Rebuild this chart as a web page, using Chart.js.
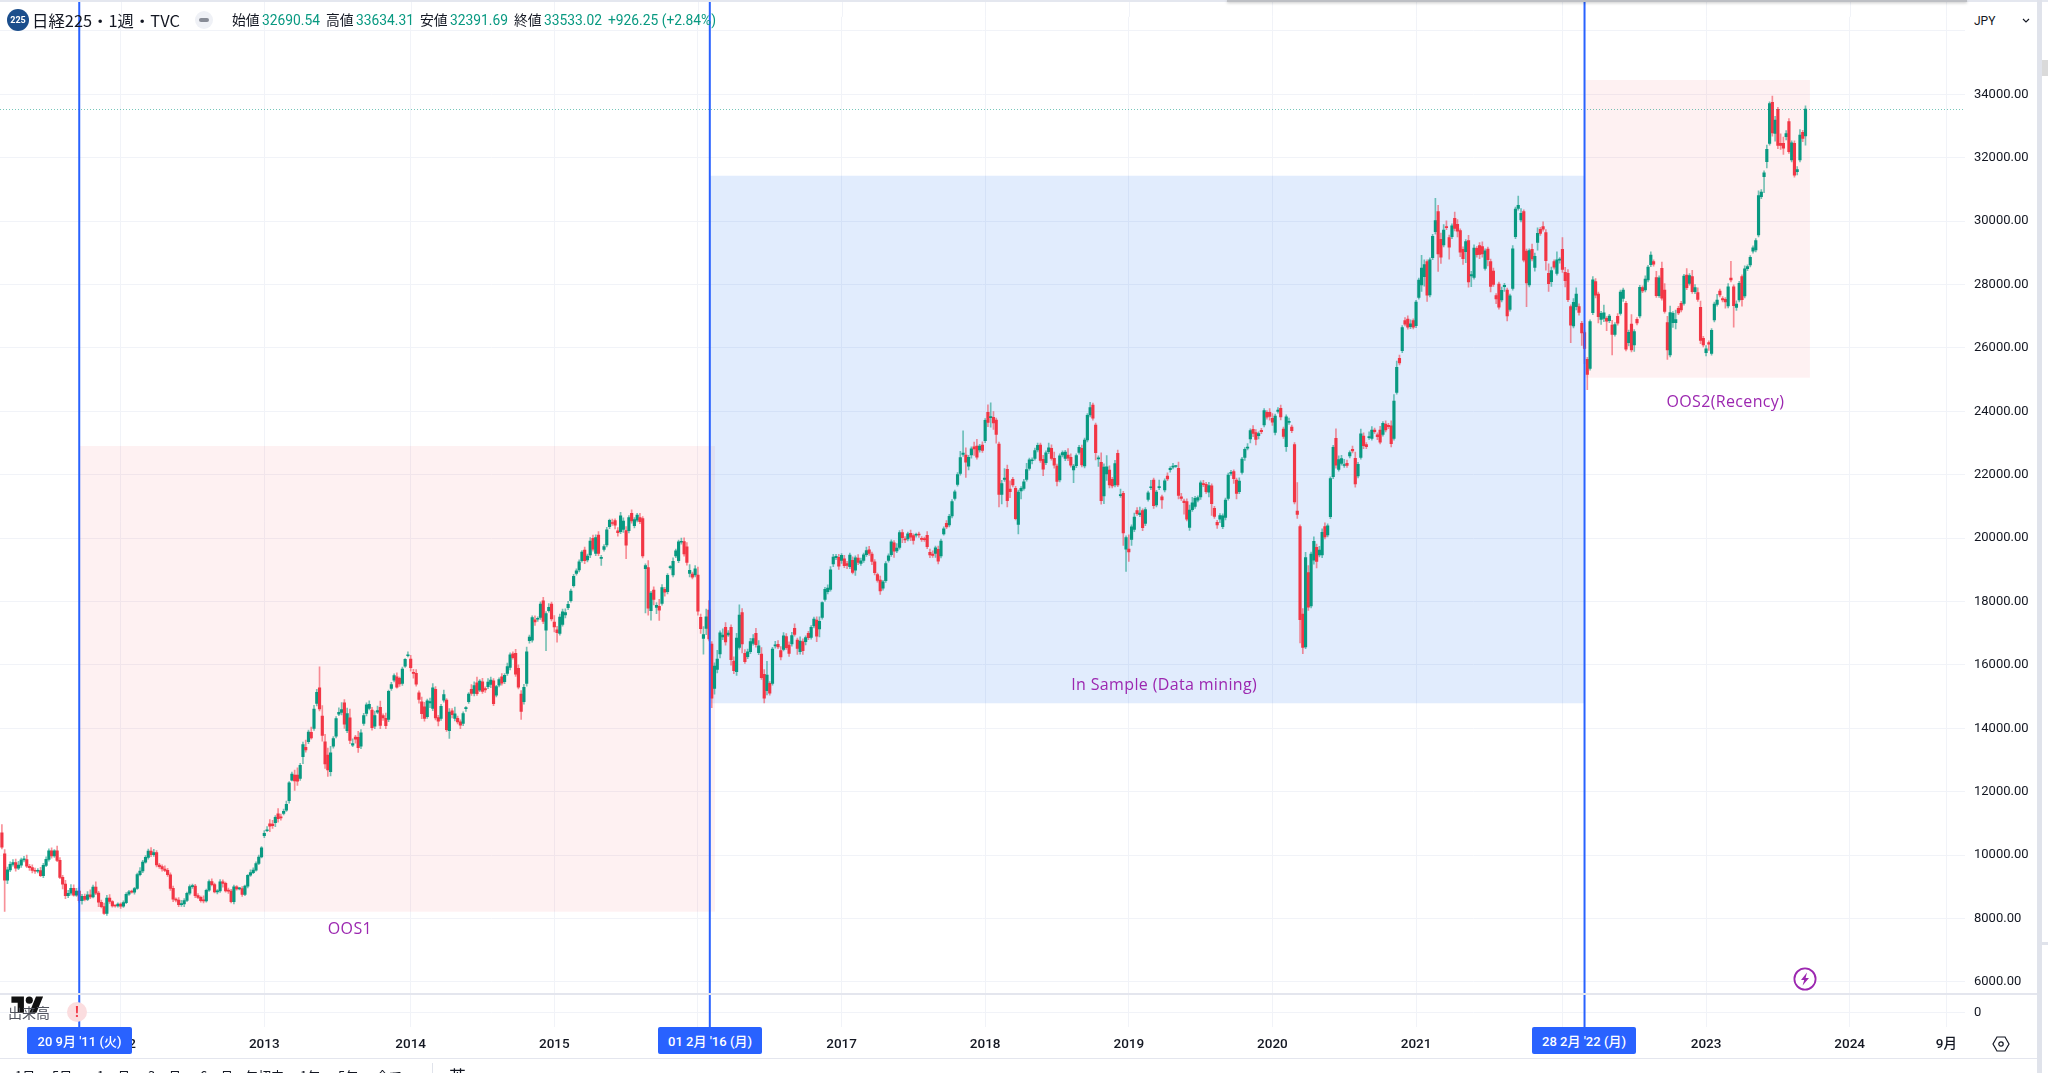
<!DOCTYPE html>
<html lang="ja"><head><meta charset="utf-8"><title>日経225 1週 TVC</title>
<script src="https://cdn.jsdelivr.net/npm/chart.js@4"></script>
<style>
html,body{margin:0;padding:0;width:2048px;height:1073px;overflow:hidden;background:#fff;font-family:Roboto,"Noto Sans CJK JP",sans-serif;color:#131722}
canvas{position:absolute;left:0;top:0;filter:blur(.3px)}
.a{position:absolute;white-space:nowrap}
.g{color:#089981}
.badge{position:absolute;top:1027px;height:27px;background:#2962FF;color:#fff;border-radius:2px;text-align:center;font:500 13px/30px Roboto,"Noto Sans CJK JP";overflow:hidden}
</style></head><body>
<canvas id="c" width="2048" height="1073"></canvas>

<div class="a" style="left:0;top:0;width:2048px;height:2px;background:#E4E7EF"></div>
<div class="a" style="left:1227px;top:0;width:740px;height:2px;background:#BDBFC4;box-shadow:0 1px 3px rgba(0,0,0,.25)"></div>

<div class="a" style="left:7px;top:9px;width:22px;height:22px;border-radius:50%;background:#1B4E8C;color:#fff;font:700 9px/22px Roboto;text-align:center">225</div>
<div class="a" style="left:32px;top:8px;font:400 16.4px/24px 'Noto Sans CJK JP'">日経225・1週・TVC</div>
<div class="a" style="left:195px;top:11px;width:18px;height:18px;border-radius:50%;background:#EFF1F6"></div>
<div class="a" style="left:199px;top:18px;width:10px;height:4px;border-radius:2px;background:#888C96"></div>
<div class="a" style="left:232px;top:11px;font-size:13.8px;line-height:18px">始値</div><div class="a g" style="left:262px;top:11px;font-size:13.8px;line-height:18px">32690.54</div>
<div class="a" style="left:326px;top:11px;font-size:13.8px;line-height:18px">高値</div><div class="a g" style="left:356px;top:11px;font-size:13.8px;line-height:18px">33634.31</div>
<div class="a" style="left:420px;top:11px;font-size:13.8px;line-height:18px">安値</div><div class="a g" style="left:450px;top:11px;font-size:13.8px;line-height:18px">32391.69</div>
<div class="a" style="left:514px;top:11px;font-size:13.8px;line-height:18px">終値</div><div class="a g" style="left:544px;top:11px;font-size:13.8px;line-height:18px">33533.02</div>
<div class="a g" style="left:608px;top:11px;font-size:13.8px;line-height:18px">+926.25 (+2.84%)</div>

<div class="a" style="left:1974px;top:10px;width:60px;height:22px;font:12px/22px Roboto;background:#fff">JPY<svg style="position:absolute;left:48px;top:8px" width="8" height="6"><path d="M1 1l3 3 3-3" fill="none" stroke="#131722" stroke-width="1.1"/></svg></div>

<div class="a" style="left:0;top:993px;width:2037px;height:2px;background:#E4E6EE"></div>
<div class="a" style="left:0;top:1058px;width:2037px;height:1px;background:#E4E6EE"></div>
<div class="a" style="left:2037px;top:0;width:5px;height:1073px;background:#E0E3EB"></div>
<div class="a" style="left:2042px;top:60px;width:6px;height:16px;background:#DADADA"></div>
<div class="a" style="left:2042px;top:942px;width:6px;height:3px;background:#E0E3EB"></div>

<svg class="a" style="left:11px;top:993px" width="33" height="25" viewBox="0 0 36 28"><path d="M14 22H7V11H0V4h14v18zM28 22h-8l7.5-18h8L28 22z" fill="#111"/><circle cx="20" cy="8" r="4" fill="#111"/></svg>
<div class="a" style="left:8px;top:1003px;font:400 14px/18px 'Noto Sans CJK JP';color:#50535E">出来高</div>
<div class="a" style="left:67px;top:1002px;width:20px;height:20px;border-radius:50%;background:#FBDDDF;color:#F23645;font:700 14px/20px Roboto;text-align:center">!</div>

<svg class="a" style="left:1793px;top:967px" width="24" height="24" viewBox="0 0 24 24"><circle cx="12" cy="12" r="10.6" fill="#fff" stroke="#9C27B0" stroke-width="1.8"/><path d="M14 5.5L8 13h3.2l-1.6 5.5L16 11h-3.4z" fill="#9C27B0"/></svg>
<svg class="a" style="left:1992px;top:1036px" width="18" height="16" viewBox="0 0 18 16"><path d="M5 1h8l4 7-4 7H5L1 8z" fill="none" stroke="#131722" stroke-width="1.2"/><circle cx="9" cy="8" r="2.2" fill="none" stroke="#131722" stroke-width="1.2"/></svg>

<div class="badge" style="left:27px;width:105px">20 9月 '11 (火)</div>
<div class="badge" style="left:658px;width:104px">01 2月 '16 (月)</div>
<div class="badge" style="left:1532px;width:104px">28 2月 '22 (月)</div>

<div class="a" style="left:15px;top:1067px;font:400 13px/18px 'Noto Sans CJK JP';color:#131722">1日</div>
<div class="a" style="left:52px;top:1067px;font:400 13px/18px 'Noto Sans CJK JP'">5日</div>
<div class="a" style="left:97px;top:1067px;font:400 13px/18px 'Noto Sans CJK JP'">1ヶ月</div>
<div class="a" style="left:148px;top:1067px;font:400 13px/18px 'Noto Sans CJK JP'">3ヶ月</div>
<div class="a" style="left:200px;top:1067px;font:400 13px/18px 'Noto Sans CJK JP'">6ヶ月</div>
<div class="a" style="left:245px;top:1067px;font:400 13px/18px 'Noto Sans CJK JP'">年初来</div>
<div class="a" style="left:300px;top:1067px;font:400 13px/18px 'Noto Sans CJK JP'">1年</div>
<div class="a" style="left:338px;top:1067px;font:400 13px/18px 'Noto Sans CJK JP'">5年</div>
<div class="a" style="left:376px;top:1067px;font:400 13px/18px 'Noto Sans CJK JP'">全て</div>
<div class="a" style="left:432px;top:1063px;width:1px;height:10px;background:#E0E3EB"></div>
<div class="a" style="left:449px;top:1066px;font:400 17px/20px 'Noto Sans CJK JP'">英</div>

<script>
// weekly closes, one list per calendar year; week 0 = first bar at the left edge
const closes2011=[10254,9206,9536,9708,9768,9591,9682,9849,9859,9648,9607,9521,9492,9514,9351,9678,9868,10137,9974,10132,9833,9299,9086,8719,8797,8950,8737,8864,8560,8700,8605,8747,8678,8988,8801,8514,8374,8160,8643,8536,8401,8395,8455];
const closes2012=[8390,8500,8766,8841,8831,8947,9384,9500,9777,9929,10130,10012,10083,9688,9637,9561,9520,9380,8953,8611,8580,8440,8460,8569,8798,9006,9020,8724,8669,8566,8555,8891,9162,9070,8840,8871,9159,9110,8870,8863,8534,9002,8933,8946,8757,9024,9366,9446,9527,9737,9940,10230];
const closes2013=[10688,10801,10913,10926,11191,11153,11173,11385,11606,12283,12560,12338,12335,12833,13485,13316,13884,13694,14607,15138,14612,13774,12877,12686,13230,13677,14309,14506,14589,14129,14466,13615,13519,13660,13389,13860,14404,14742,14760,14024,14405,14561,14088,14327,14086,15165,15382,15662,15299,15403,15870,16178,16291];
const closes2014=[15912,15734,15391,14914,14462,14313,14865,14841,15274,14327,14224,14696,15063,13960,14516,14429,14458,14199,14097,14462,14632,15077,15097,15349,15095,15490,15164,15215,15457,15523,14778,15318,15539,15424,15668,15948,16321,16229,15708,15300,14532,15291,16413,16880,17490,17357,17459,17920,17371,17621,17818,17450];
const closes2015=[17197,17014,17511,17674,17648,17913,18332,18798,18971,19254,19560,19286,19435,19908,19652,20020,19520,19379,19733,20264,20563,20461,20407,20174,20706,20539,19780,20650,20544,20585,20724,20519,19435,19136,17792,18264,18070,17880,17725,18438,18291,18825,19083,19265,19596,19879,19883,19504,19230,18986,18769,19033];
const closes2016=[17697,17147,16958,17518,16819,14952,15967,16188,17014,16938,16724,17002,16164,15821,16848,17572,16666,16106,16412,16736,16834,16642,16601,15599,14952,15682,15106,16497,16627,16569,16254,16919,16545,16360,16925,16965,16519,16754,16449,16860,16856,17184,17446,16905,17374,17967,18381,18426,18996,19401,19428,19114];
const closes2017=[19454,19134,19137,19467,18918,19378,19234,19283,19469,19604,19521,19262,18909,18664,18335,18620,19196,19445,19883,19590,19687,20177,20013,19943,20132,20033,19929,20118,20099,19959,19952,19729,19470,19452,19691,19274,19909,20296,20356,20690,21155,21457,22008,22539,22681,22396,22550,22819,22811,22553,22902,22764];
const closes2018=[23714,23653,23808,23631,23274,21382,21720,21892,21181,21469,21676,20617,21454,21567,21778,22162,22467,22472,22758,22930,22450,22171,22694,22851,22516,22304,21788,22597,22697,22712,22525,22298,22270,22601,22865,22307,23094,23870,24120,23783,22694,22532,21184,22243,22250,21680,21646,22351,21679,21374,20166,20015];
const closes2019=[19561,20359,20666,20773,20788,20333,20900,21425,21602,21025,21450,21627,21205,21807,21870,22200,22258,22258,21344,21250,21117,20601,20884,21116,21258,21275,21746,21685,21466,21658,21087,20684,20418,20711,20704,21199,21988,22079,21878,21410,21798,22492,22799,22851,23391,23303,23112,23294,23354,24023,23816,23837];
const closes2020=[23657,23850,24041,23827,23205,23827,23687,23386,21142,20749,17431,16553,19389,17820,19498,19897,19262,19619,20179,20037,20388,21877,22863,22305,22478,22512,22306,22290,22696,22751,21710,22329,23289,22920,22882,23205,23406,23360,23204,23029,23619,23410,23516,22977,24325,25385,25527,26644,26751,26652,26763,26656,27444];
const closes2021=[28139,28519,28631,27663,28779,29520,30018,28966,28864,29717,29792,29176,29854,29768,29683,29020,28812,29357,28084,28317,29149,28941,28948,28964,29066,28783,27940,28003,27548,27283,27820,27977,27013,27641,29128,30381,30500,30248,28771,28048,29068,28804,28892,29611,29609,29745,28751,28029,28437,28545,28782,28791];
const closes2022=[28478,28124,27522,26717,27439,27696,27122,26476,25985,25162,26827,28149,27665,26985,27093,27105,26847,27003,26427,26739,26781,27761,27824,25963,26491,25935,26517,26788,27914,27801,28175,28546,28930,28641,27650,28214,27567,27153,25937,27116,27090,26890,27105,27199,28263,27899,28283,27777,27901,27527,26235,26094];
const closes2023=[25973,26119,26553,27382,27509,27670,27513,27453,27927,28143,27333,27385,28041,27518,28493,28564,28856,29157,29388,30808,30916,31524,32265,33706,32781,33189,32388,32391,32304,32759,32192,32473,31450,31624,32710,32606,33533.02];

// weekly opens
const opens2011=[10700,10044,9206,9536,9708,9768,9591,9682,9849,9859,9648,9607,9521,9492,9514,9351,9678,9868,10137,9974,10132,9833,9299,9086,8719,8797,8950,8737,8864,8560,8700,8605,8747,8678,8988,8801,8514,8374,8160,8643,8536,8401,8395];
const opens2012=[8455,8390,8500,8766,8841,8831,8947,9384,9500,9777,9929,10130,10012,10083,9688,9637,9561,9520,9380,8953,8611,8580,8440,8460,8569,8798,9006,9020,8724,8669,8566,8555,8891,9162,9070,8840,8871,9159,9110,8870,8863,8534,9002,8933,8946,8757,9024,9366,9446,9527,9737,9940];
const opens2013=[10611,10770,10990,10980,11020,11300,11211,11316,11421,11715,12367,12525,12525,12420,13104,13400,13577,13871,14000,14786,15280,14386,13577,13156,12630,13440,13755,14450,14500,14807,13923,14334,13471,13720,13713,13440,14155,14470,14628,14576,14071,14510,14660,14400,14313,14281,15259,15522,15627,15574,15417,15964,16290];
const opens2014=[16184,15760,15732,15122,14839,14681,14365,14800,14628,15227,14340,14313,14891,14891,13923,14555,14313,14313,14207,14155,14620,14839,15227,15101,15437,15206,15469,15250,15311,15385,15501,15049,15364,15627,15469,15732,15922,16350,16363,15890,15080,14839,15417,16763,16784,17420,17440,17499,18025,17100,17710,17920];
const opens2015=[17353,17110,16995,17280,17574,17805,18026,18499,18888,18993,19288,19624,19309,19467,19992,19519,20097,19360,19645,19782,20360,20480,20550,20230,20203,20276,20234,20234,20781,20392,20570,20644,20620,19040,19070,17710,18362,17814,17850,17942,18384,18310,19070,18836,19435,19288,19870,19887,19729,18888,18867,18836];
const opens2016=[18836,17500,16838,17153,17732,16659,15261,15860,16344,16880,17185,16950,17185,16123,15786,16554,17648,16365,16260,16418,16680,16996,16386,16344,15700,15187,15418,15418,16600,16650,16449,16491,16890,16628,16659,17153,16785,16418,16733,16733,17000,16870,17227,17416,17132,17500,18068,18310,18384,19183,19380,19390];
const opens2017=[19300,19350,19200,19100,19300,18990,19370,19200,19300,19480,19630,19500,19250,18850,18680,18420,18660,19300,19480,19850,19600,19709,20172,19960,19972,20150,20077,20090,20130,19990,19970,20087,19551,19500,19520,19646,19435,20130,20466,20413,20697,21254,21696,22043,22640,22622,22270,22622,22880,22905,22780,22937];
const opens2018=[23074,23967,23800,23810,23726,22970,21381,21850,22170,21550,21854,21570,20434,21486,21570,21854,22201,22440,22516,22780,22937,22485,22380,22726,22832,22516,22275,21833,22622,22515,22622,22548,22148,22285,22706,22832,22274,23095,23883,24199,23568,22500,22390,21328,22022,22148,21854,21675,22674,21340,21412,19650];
const opens2019=[19655,19961,20277,20866,20740,20866,20466,21223,21590,21833,21044,21590,21300,21517,21960,22160,22240,22258,22200,21300,21170,21149,20340,20900,21000,21200,21300,21700,21700,21450,21650,20939,20500,20600,20360,20655,21254,22040,22095,21833,21465,22074,22547,22840,23126,23430,23326,23230,23400,23567,23967,23967];
const opens2020=[23778,23336,24000,24093,23441,22884,23650,23504,22950,20850,20360,17600,16570,18910,17858,19308,19708,19466,19466,20360,20097,20676,21938,23147,22169,22358,22290,22358,22590,22800,22516,21959,22547,23220,22950,23170,23147,23410,23260,23410,23274,23600,23560,23546,23147,24599,25671,25913,26859,26911,26670,26859,26701];
const opens2021=[27595,27984,28247,28720,27669,28846,29666,30297,29425,29246,29830,29477,29509,30087,29898,29698,29109,29036,29383,28270,28226,29140,29225,29193,28510,29120,28720,28426,27650,28016,27511,27930,27826,27217,27879,29509,30403,30035,30297,29057,27984,29109,28541,29330,29740,29825,29635,28352,28089,28720,28352,28770];
const opens2022=[29109,28384,28352,27301,26691,27301,27301,26775,26480,25639,25355,27111,28089,27700,26901,26930,26930,26860,26722,26427,27000,27090,27563,27406,26165,26754,26092,26900,27006,27900,27826,28142,28625,28720,28215,27650,28510,27826,26796,25776,26796,26796,27248,27406,27406,28300,28037,28247,27774,27742,27279,26302];
const opens2023=[25850,26165,25830,26880,27375,27795,27560,27530,27322,28200,27930,27280,27511,28247,27640,28500,28615,29050,29088,29562,30771,31400,31875,32453,33746,32769,33530,32450,32453,32663,33137,31928,32453,31559,31928,32800,32690.54];

// estimated length of the wick above each body
const upperWicks=[
260,130,90,80,90,110,120,60,100,140,60,90,70,60,100,60,80,60,90,40,150,90,60,120,90,120,110,90,130,60,70,100,160,70,170,60,70,110,90,110,30,30,40,
40,60,50,50,60,40,50,110,60,60,60,110,100,60,50,60,100,60,60,70,40,80,110,60,40,60,70,60,60,40,150,40,60,90,50,40,70,60,40,90,60,50,40,40,60,30,20,90,70,50,60,40,
90,100,130,120,60,170,80,70,100,40,60,160,230,60,80,230,60,170,120,90,660,330,230,220,200,60,60,140,220,100,170,270,150,60,190,100,70,60,110,90,140,140,200,60,170,40,70,60,120,40,60,20,120,
120,100,120,60,150,140,60,110,140,90,70,60,140,50,110,70,210,70,60,60,50,50,150,120,180,50,110,60,110,90,70,40,50,100,60,110,60,60,130,110,110,100,150,60,60,130,60,70,110,60,120,60,
200,110,90,90,120,90,60,60,60,60,50,90,60,110,100,80,110,80,60,80,40,120,60,100,110,100,130,60,110,60,60,140,60,50,220,60,100,90,220,100,60,60,50,110,60,60,120,120,130,180,60,100,
250,100,250,240,300,80,100,270,60,200,150,80,80,130,150,320,130,120,90,100,120,160,170,200,150,430,60,60,120,120,130,100,100,100,100,140,60,130,90,60,60,60,60,100,140,20,70,100,110,90,60,100,
60,110,70,60,110,60,110,90,60,110,110,60,70,50,120,50,60,60,60,70,140,60,100,90,60,100,60,40,60,60,60,120,100,100,60,100,60,60,90,60,60,60,60,200,700,230,60,60,150,210,60,100,
60,240,460,180,60,60,100,300,130,260,60,60,60,60,80,200,60,60,80,70,60,130,60,150,110,200,60,60,60,60,200,110,60,60,60,100,60,60,160,60,60,60,300,100,350,130,60,100,100,170,60,60,
450,60,120,100,190,60,60,60,220,60,60,200,60,60,100,60,100,30,200,110,60,90,160,170,60,60,60,120,60,100,60,60,60,60,60,60,60,60,60,60,100,60,60,130,60,120,100,60,60,60,60,120,
150,60,80,100,60,60,100,60,60,900,60,180,160,220,60,140,100,120,110,120,60,60,60,300,120,100,180,100,60,100,200,60,150,100,60,150,110,60,60,120,60,100,60,150,200,200,100,60,100,100,120,60,60,
60,400,150,60,60,60,700,200,200,170,180,80,60,200,150,60,80,60,170,100,100,60,100,150,60,60,80,90,60,60,100,60,60,60,100,60,290,150,60,60,60,170,100,180,60,150,100,300,110,60,250,60,
370,160,120,60,120,200,90,60,60,60,60,100,100,60,60,250,60,60,150,60,80,60,60,60,70,300,60,60,60,60,100,60,100,60,200,60,200,200,200,200,60,300,60,60,60,200,60,200,100,150,200,60,
100,60,60,60,180,60,60,60,100,530,60,100,60,60,100,60,60,60,60,150,80,60,130,60,200,120,60,300,200,100,100,60,80,100,180,60,101.29];

// estimated length of the wick below each body
const lowerWicks=[
60,980,110,60,60,100,50,70,60,40,90,80,70,50,30,60,40,60,70,50,40,40,150,90,60,60,30,40,60,110,50,40,50,30,50,140,40,30,60,60,40,40,40,
70,40,30,40,30,60,30,40,50,30,60,60,50,60,60,70,40,50,70,80,60,70,60,90,40,50,60,70,40,50,60,40,40,40,30,60,50,120,40,70,40,70,40,30,60,40,60,40,30,30,40,30,
60,30,170,80,120,110,70,50,40,80,30,300,140,60,220,70,60,40,70,80,60,180,140,200,130,70,60,50,80,130,60,100,50,130,150,80,60,80,50,80,80,50,100,80,100,70,60,60,30,80,60,40,40,
110,150,60,120,160,90,50,150,70,60,150,60,70,60,240,100,80,60,110,70,90,50,60,80,60,50,60,80,60,100,60,60,60,60,60,60,80,50,70,60,250,80,90,80,70,110,70,60,70,650,50,60,
160,300,60,60,90,60,50,50,60,60,50,90,60,80,60,70,70,220,60,60,60,60,120,110,60,100,430,70,70,70,60,60,60,1400,220,300,180,200,320,60,120,70,50,60,50,60,60,70,80,110,60,60,
130,150,500,200,60,300,180,110,120,80,100,50,170,100,120,60,290,60,60,60,60,80,60,60,150,130,60,60,70,60,100,50,60,90,70,60,190,80,120,100,60,60,60,170,250,60,60,70,60,80,60,100,
100,70,100,60,50,170,70,60,70,60,70,100,70,50,110,60,60,60,60,200,60,60,160,90,60,110,120,60,80,60,60,60,90,60,130,90,60,40,60,60,60,60,60,60,60,480,120,100,200,60,70,60,
60,140,300,200,280,400,300,60,200,190,60,40,300,250,60,60,60,100,60,60,60,200,60,60,60,100,140,60,60,70,80,60,400,60,60,60,60,60,60,60,230,240,110,240,200,100,60,60,60,60,400,700,
300,190,70,60,60,100,70,60,60,90,60,60,270,60,60,80,60,30,110,60,360,60,100,60,60,60,80,60,60,150,370,60,110,110,60,80,60,60,150,170,60,60,100,60,120,100,170,100,60,60,60,120,
100,80,60,100,60,150,60,60,60,130,740,200,60,100,60,130,200,60,80,60,60,60,60,100,60,60,60,60,60,60,100,60,60,100,60,60,60,60,100,60,60,60,60,100,60,60,60,60,60,60,60,60,60,
60,200,300,200,60,60,80,550,200,60,60,380,60,80,180,140,180,350,170,340,60,80,130,100,60,200,170,60,150,60,60,150,160,60,60,60,60,60,60,750,60,60,120,250,60,60,300,250,150,60,60,100,
100,200,60,550,60,100,90,400,480,480,60,60,90,200,160,100,300,60,650,60,60,60,100,60,100,60,200,60,60,60,60,60,60,60,60,60,60,60,300,60,150,200,60,60,60,60,60,60,60,60,100,60,
100,200,60,60,60,60,60,200,60,60,680,100,60,200,60,60,60,60,60,60,60,500,200,60,100,250,100,130,200,100,60,60,60,100,60,100,298.85];

const closes=[].concat(closes2011,closes2012,closes2013,closes2014,closes2015,closes2016,closes2017,closes2018,closes2019,closes2020,closes2021,closes2022,closes2023);
const opens=[].concat(opens2011,opens2012,opens2013,opens2014,opens2015,opens2016,opens2017,opens2018,opens2019,opens2020,opens2021,opens2022,opens2023);

const yearWeeks=[43,95,148,200,252,304,356,408,460,512,565,617,669,704];
const yearLabels=['2012','2013','2014','2015','2016','2017','2018','2019','2020','2021','2022','2023','2024','9月'];
const priceTicks=[6000,8000,10000,12000,14000,16000,18000,20000,22000,24000,26000,28000,30000,32000,34000,36000];
const hiddenPriceLabel=36000;
const volumeTicks=[0];
const markerWeeks=[28,256.3,573];
const zoneLabels=['OOS1','In Sample (Data mining)','OOS2(Recency)'];
const zoneWeekFrom=[27.9,256.4,573];
const zoneWeekTo=[258.2,573,654.6];
const zonePriceTop=[22905,31432,34451];
const zonePriceBottom=[8215,14790,25060];
const zoneFill=['rgba(242,54,69,0.07)','rgba(33,113,240,0.135)','rgba(242,54,69,0.07)'];
const zoneLabelWeek=[126,420.8,624];
const zoneLabelPrice=[7640,15360,24290];

const UP='#089981',DOWN='#F23645',UP_W='rgba(8,153,129,0.55)',DOWN_W='rgba(242,54,69,0.55)',GRID='#F1F3F8';
const bodies=closes.map((c,i)=>({x:i,y:[opens[i],c]}));
const wicks=closes.map((c,i)=>({x:i,y:[Math.min(opens[i],c)-lowerWicks[i],Math.max(opens[i],c)+upperWicks[i]]}));
const isUp=closes.map((c,i)=>c>=opens[i]);

const overlay={id:'overlay',
 beforeDatasetsDraw(ch){const {ctx,chartArea,scales:{x,y}}=ch;ctx.save();
  ctx.strokeStyle=GRID;ctx.lineWidth=1;
  yearWeeks.forEach(w=>{const p=Math.round(x.getPixelForValue(w))+.5;ctx.beginPath();ctx.moveTo(p,0);ctx.lineTo(p,chartArea.top);ctx.stroke();});
  zoneLabels.forEach((_,k)=>{const l=x.getPixelForValue(zoneWeekFrom[k]),r=x.getPixelForValue(zoneWeekTo[k]),t=y.getPixelForValue(zonePriceTop[k]),b=y.getPixelForValue(zonePriceBottom[k]);
   ctx.fillStyle=zoneFill[k];ctx.fillRect(l,t,r-l,b-t);});ctx.restore();},
 afterDatasetsDraw(ch){const {ctx,chartArea,scales:{x,y}}=ch;ctx.save();
  const yc=Math.round(y.getPixelForValue(closes[closes.length-1]))+.5;
  ctx.strokeStyle='rgba(8,153,129,0.55)';ctx.lineWidth=1;ctx.setLineDash([1,2]);ctx.beginPath();ctx.moveTo(0,yc);ctx.lineTo(chartArea.right,yc);ctx.stroke();ctx.setLineDash([]);
  ctx.strokeStyle='#2962FF';ctx.lineWidth=2;
  markerWeeks.forEach(w=>{const p=x.getPixelForValue(w);ctx.beginPath();ctx.moveTo(p,0);ctx.lineTo(p,chartArea.bottom);ctx.stroke();});
  ctx.fillStyle='#9C27B0';ctx.font='16px "Open Sans"';ctx.letterSpacing='0.35px';ctx.textAlign='center';ctx.textBaseline='middle';
  zoneLabels.forEach((t,k)=>ctx.fillText(t,x.getPixelForValue(zoneLabelWeek[k]),y.getPixelForValue(zoneLabelPrice[k])));
  ctx.restore();}};

new Chart(document.getElementById('c'),{type:'bar',
 data:{datasets:[
  {label:'body',data:bodies,backgroundColor:isUp.map(u=>u?UP:DOWN),barThickness:2.5,minBarLength:1,grouped:false,borderWidth:0,borderSkipped:false,yAxisID:'y'},
  {label:'wick',data:wicks,backgroundColor:isUp.map(u=>u?UP_W:DOWN_W),barThickness:1,grouped:false,borderWidth:0,borderSkipped:false,yAxisID:'y'}
 ]},
 plugins:[overlay],
 options:{responsive:false,animation:false,events:[],
  layout:{autoPadding:false,padding:{left:0,right:0,top:0,bottom:15}},
  plugins:{legend:{display:false},tooltip:{enabled:false}},
  scales:{
   x:{type:'linear',offset:false,min:-0.688,max:710.75,position:'bottom',
    afterBuildTicks(s){s.ticks=yearWeeks.map(v=>({value:v}));},
    afterFit(s){s.height=31;},
    ticks:{autoSkip:false,maxRotation:0,padding:10,color:'#131722',font:{family:'Roboto,"Noto Sans CJK JP"',size:13.5,weight:'500'},callback:v=>yearLabels[yearWeeks.indexOf(v)]},
    grid:{offset:false,color:GRID,drawTicks:false},border:{display:false}},
   y:{type:'linear',position:'right',stack:'panes',stackWeight:994,min:5602,max:36445,
    afterBuildTicks(s){s.ticks=priceTicks.map(v=>({value:v}));},
    afterFit(s){s.width=83;},
    ticks:{autoSkip:false,padding:9,color:'#131722',font:{family:'Roboto',size:13},callback:v=>v===hiddenPriceLabel?'':v.toFixed(2)},
    grid:{color:GRID,drawTicks:false},border:{display:false}},
   yVol:{type:'linear',position:'right',stack:'panes',stackWeight:33,min:-1,max:1.27,
    afterBuildTicks(s){s.ticks=volumeTicks.map(v=>({value:v}));},
    afterFit(s){s.width=83;},
    ticks:{padding:9,color:'#131722',font:{family:'Roboto',size:13},callback:v=>String(v)},
    grid:{color:GRID,drawTicks:false},border:{display:false}}
  }}});
</script></body></html>
